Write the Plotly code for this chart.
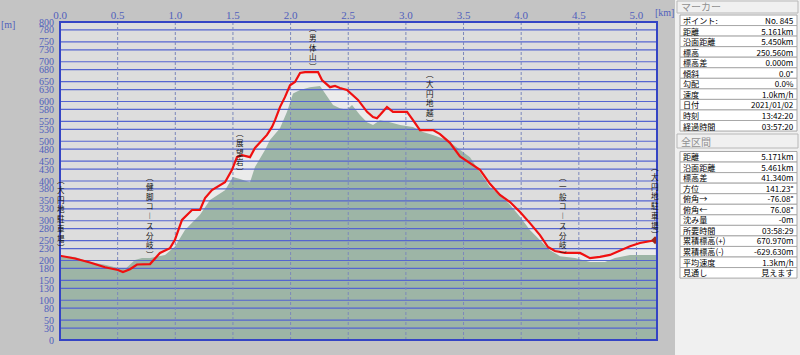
import plotly.graph_objects as go

# ---------------- data ----------------
track_km = [0.000, 0.130, 0.260, 0.390, 0.503, 0.546, 0.607, 0.668, 0.781, 0.867, 0.954, 0.997,
            1.058, 1.145, 1.214, 1.258, 1.318, 1.388, 1.431, 1.492, 1.535, 1.578, 1.648, 1.691,
            1.752, 1.795, 1.839, 1.865, 1.908, 1.951, 1.995, 2.038, 2.082, 2.125, 2.238, 2.272,
            2.342, 2.385, 2.428, 2.489, 2.585, 2.663, 2.715, 2.749, 2.775, 2.836, 2.888, 3.010,
            3.062, 3.122, 3.235, 3.296, 3.382, 3.469, 3.556, 3.643, 3.729, 3.816, 3.903, 3.990,
            4.076, 4.163, 4.232, 4.293, 4.380, 4.510, 4.597, 4.683, 4.770, 4.857, 4.944, 5.030,
            5.117, 5.161]
track_elev = [212, 205, 195, 183, 176, 171, 178, 190, 191, 219, 231, 252,
              302, 327, 327, 357, 377, 390, 397, 428, 460, 465, 460, 483,
              503, 516, 536, 553, 586, 611, 641, 649, 672, 674, 674, 654,
              636, 639, 634, 629, 604, 574, 561, 558, 566, 586, 574, 574,
              553, 528, 528, 518, 496, 462, 445, 428, 393, 365, 347, 322,
              294, 264, 234, 224, 219, 219, 206, 209, 214, 226, 236, 244,
              248, 251]

ground_km = [0.000, 0.130, 0.260, 0.390, 0.503, 0.564, 0.650, 0.711, 0.781, 0.911, 0.997, 1.084,
             1.214, 1.301, 1.431, 1.500, 1.561, 1.648, 1.691, 1.778, 1.821, 1.908, 1.969, 2.021,
             2.082, 2.168, 2.255, 2.298, 2.368, 2.428, 2.489, 2.533, 2.602, 2.663, 2.715, 2.775,
             2.862, 2.949, 3.062, 3.148, 3.235, 3.356, 3.469, 3.556, 3.729, 3.816, 3.903, 3.990,
             4.076, 4.163, 4.250, 4.337, 4.467, 4.597, 4.727, 4.813, 4.944, 5.074, 5.178]
ground_elev = [212, 209, 196, 189, 181, 178, 201, 206, 206, 214, 235, 277,
               315, 352, 377, 410, 405, 397, 435, 478, 503, 533, 574, 620,
               629, 636, 639, 621, 591, 583, 579, 591, 566, 548, 541, 553,
               548, 541, 536, 523, 516, 503, 478, 460, 385, 365, 340, 310,
               277, 252, 226, 211, 206, 196, 196, 206, 214, 214, 214]

y_ticks = [0, 30, 50, 80, 100, 130, 150, 180, 200, 230, 250, 280, 300, 330, 350, 380, 400, 430,
           450, 480, 500, 530, 550, 580, 600, 630, 650, 680, 700, 730, 750, 780, 800]
x_ticks = [0.0, 0.5, 1.0, 1.5, 2.0, 2.5, 3.0, 3.5, 4.0, 4.5, 5.0]
x_tick_text = ["0.0", "0.5", "1.0", "1.5", "2.0", "2.5", "3.0", "3.5", "4.0", "4.5", "5.0"]

label_names = ["大円地駐車場", "健脚コース分岐", "展望岩", "男体山", "大円地越", "一般コース分岐", "大円地駐車場"]
label_km = [0.0, 0.78, 1.56, 2.19, 3.21, 4.36, 5.16]
label_mid = [317, 314, 473, 737, 609, 312, 352]

marker_rows = [("ポイント:", "No. 845"), ("距離", "5.161km"), ("沿面距離", "5.450km"),
               ("標高", "250.560m"), ("標高差", "0.000m"), ("傾斜", "0.0°"), ("勾配", "0.0%"),
               ("速度", "1.0km/h"), ("日付", "2021/01/02"), ("時刻", "13:42:20"),
               ("経過時間", "03:57:20")]
total_rows = [("距離", "5.171km"), ("沿面距離", "5.461km"), ("標高差", "41.340m"),
              ("方位", "141.23°"), ("俯角→", "-76.08°"), ("俯角←", "76.08°"), ("沈み量", "-0m"),
              ("所要時間", "03:58:29"), ("累積標高(+)", "670.970m"), ("累積標高(-)", "-629.630m"),
              ("平均速度", "1.3km/h"), ("見通し", "見えます")]

# ---------------- layout geometry ----------------
W, H = 800, 355
L, R, T, B = 60, 657, 22, 340
XMAX = 5.178
BLUE = "#5565d0"
TICKC = "#5060bc"
JP = "Noto Sans CJK JP"


def px(x):
    return (x - L) / (R - L)


def py(y):
    return (B - y) / (B - T)


fig = go.Figure()

# light band (area below the track)
fig.add_trace(go.Scatter(x=track_km, y=track_elev, mode="lines", line=dict(width=0),
                         fill="tozeroy", fillcolor="#ebebeb", hoverinfo="skip"))
# ground
fig.add_trace(go.Scatter(x=ground_km, y=ground_elev, mode="lines", line=dict(width=0),
                         fill="tozeroy", fillcolor="#9db5a6", hoverinfo="skip"))

# grid lines (drawn above the ground fill)
hx, hy = [], []
for v in y_ticks[1:-1]:
    hx += [0, XMAX, None]
    hy += [v, v, None]
fig.add_trace(go.Scatter(x=hx, y=hy, mode="lines", line=dict(color=BLUE, width=1.2),
                         hoverinfo="skip"))
vx, vy = [], []
for v in x_ticks[1:]:
    vx += [v, v, None]
    vy += [0, 800, None]
fig.add_trace(go.Scatter(x=vx, y=vy, mode="lines",
                         line=dict(color="#7c88bc", width=1, dash="3px,2px"), hoverinfo="skip"))

# track
fig.add_trace(go.Scatter(x=track_km, y=track_elev, mode="lines",
                         line=dict(color="#f01010", width=2.2), hoverinfo="skip"))
fig.add_trace(go.Scatter(x=[track_km[-1]], y=[track_elev[-1]], mode="markers",
                         marker=dict(color="#a02818", size=6, symbol="diamond"), hoverinfo="skip"))

shapes = []
annotations = []

# plot border
shapes.append(dict(type="rect", xref="paper", yref="paper", x0=0, x1=1, y0=0, y1=1,
                   line=dict(color="#3444c4", width=2), layer="above"))

# vertical place-name labels (upright characters stacked top to bottom)
vert_map = {"ー": "︱"}
for name, km, mid in zip(label_names, label_km, label_mid):
    chars = ["︵"] + [vert_map.get(c, c) for c in name] + ["︶"]
    annotations.append(dict(x=km, y=mid, xref="x", yref="y", text="<br>".join(chars),
                            showarrow=False, yanchor="middle", xanchor="center", borderpad=0,
                            xshift=1 if km == 0 else 0,
                            font=dict(family=JP, size=7.5, color="#111111")))

# axis unit labels
annotations.append(dict(x=px(8), y=py(24), xref="paper", yref="paper", text="[m]",
                        showarrow=False, xanchor="center", yanchor="middle",
                        font=dict(family="Liberation Serif", size=10, color=TICKC)))
annotations.append(dict(x=px(664), y=py(12), xref="paper", yref="paper", text="[km]",
                        showarrow=False, xanchor="center", yanchor="middle",
                        font=dict(family="Liberation Serif", size=10, color=TICKC)))

# right information panel
shapes.append(dict(type="rect", xref="paper", yref="paper", x0=px(675), x1=px(800),
                   y0=py(355), y1=py(0), fillcolor="#f0f0f0", line=dict(width=0), layer="above"))


def header(y0, y1, text):
    shapes.append(dict(type="rect", xref="paper", yref="paper", x0=px(677), x1=px(798),
                       y0=py(y1), y1=py(y0), fillcolor="#f0f0f0",
                       line=dict(color="#b8b8b8", width=1), layer="above"))
    annotations.append(dict(x=px(680), y=py((y0 + y1) / 2), xref="paper", yref="paper",
                            text=text, showarrow=False, xanchor="left", yanchor="middle",
                            borderpad=0, font=dict(family=JP, size=10, color="#909090")))


def table(rows, y_top, row_h):
    for i, (lab, val) in enumerate(rows):
        y0 = y_top + i * row_h
        y1 = y0 + row_h
        shapes.append(dict(type="rect", xref="paper", yref="paper", x0=px(680), x1=px(797),
                           y0=py(y1), y1=py(y0), fillcolor="white",
                           line=dict(color="#a8a8a8", width=1), layer="above"))
    labs = "<br>".join(r[0] for r in rows)
    vals = "<br>".join(r[1] for r in rows)
    n = len(rows)
    # one text block per column; line pitch (1.3 x size) matches the row height
    fs = row_h / 1.3
    annotations.append(dict(x=px(682), y=py(y_top + n * row_h / 2), xref="paper", yref="paper",
                            text=labs, showarrow=False, xanchor="left", yanchor="middle",
                            align="left", borderpad=0,
                            font=dict(family=JP, size=fs, color="black")))
    annotations.append(dict(x=px(795), y=py(y_top + n * row_h / 2), xref="paper", yref="paper",
                            text=vals, showarrow=False, xanchor="right", yanchor="middle",
                            align="right", borderpad=0,
                            font=dict(family=JP, size=fs, color="black")))


header(1, 13, "マーカー")
table(marker_rows, 15, 10.55)
header(134, 148, "全区間")
table(total_rows, 151.5, 10.55)

fig.update_layout(
    width=W, height=H,
    margin=dict(l=L, r=W - R, t=T, b=H - B, autoexpand=False),
    paper_bgcolor="#c4c4c4",
    plot_bgcolor="#dddddd",
    showlegend=False,
    shapes=shapes,
    annotations=annotations,
    xaxis=dict(range=[0, XMAX], side="top", tickvals=x_ticks, ticktext=x_tick_text,
               showgrid=False, zeroline=False, ticks="", showline=False,
               tickfont=dict(family="Liberation Serif", size=11, color=TICKC)),
    yaxis=dict(range=[0, 800], tickvals=y_ticks, showgrid=False, zeroline=False, ticks="",
               showline=False, ticklabelstandoff=5,
               tickfont=dict(family="Liberation Serif", size=10, color=TICKC)),
)

fig.write_html("out.html")
